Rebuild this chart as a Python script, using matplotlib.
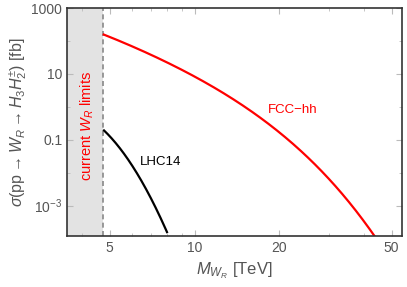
import numpy as np
import matplotlib
matplotlib.use("Agg")
import matplotlib.pyplot as plt
from matplotlib.ticker import FixedLocator, NullFormatter

plt.rcParams['font.family'] = ['Liberation Sans', 'DejaVu Sans']
plt.rcParams['mathtext.fontset'] = 'custom'
plt.rcParams['mathtext.rm'] = 'Liberation Sans'
plt.rcParams['mathtext.it'] = 'Liberation Sans:italic'

# (M in TeV, sigma in fb)
fcc_m = [4.76, 6.97, 10.47, 14.5, 15.7, 19.05, 25.0, 32.8, 37.6, 43.6]
fcc_sigma = [158, 37.1, 7.24, 1.20, 0.748, 0.244, 0.0297, 0.00288, 0.00063, 0.000115]
lhc_m = [4.77, 5.82, 6.69, 7.98]
lhc_sigma = [0.193, 0.0236, 0.00356, 0.000155]
wr_limit = 4.74

x_major = [5, 10, 20, 50]
x_minor = [4, 6, 7, 8, 9, 30, 40]
y_major = [1e-3, 1e-1, 1e1, 1e3]
y_labels = ['$10^{-3}$', '0.1', '10', '1000']
y_minor = [1e-4, 1e-2, 1, 1e2]

fig = plt.figure(figsize=(4.07, 2.87), dpi=100)
ax = fig.add_axes([0.165, 0.176, 0.823, 0.796])

xmin, xmax = 3.53, 54.5
ymin, ymax = 1.15e-4, 1e3

ax.axvspan(xmin, wr_limit, color='#e3e3e3', lw=0)
ax.axvline(wr_limit, color='#888888', ls=(0, (3, 2)), lw=1.2)

# smooth the read points in log-log space
def smooth(m, s, deg):
    lm, ls = np.log10(m), np.log10(s)
    t = np.linspace(lm[0], lm[-1], 200)
    c = np.polyfit(lm, ls, deg)
    return 10 ** t, 10 ** np.polyval(c, t)

mx, sy = smooth(fcc_m, fcc_sigma, 4)
ax.plot(mx, sy, color='red', lw=1.6)
mx, sy = smooth(lhc_m, lhc_sigma, 2)
ax.plot(mx, sy, color='black', lw=1.6)

ax.set_xscale('log')
ax.set_yscale('log')
ax.set_xlim(xmin, xmax)
ax.set_ylim(ymin, ymax)

ax.xaxis.set_major_locator(FixedLocator(x_major))
ax.set_xticklabels([str(v) for v in x_major])
ax.xaxis.set_minor_locator(FixedLocator(x_minor))
ax.xaxis.set_minor_formatter(NullFormatter())
ax.yaxis.set_major_locator(FixedLocator(y_major))
ax.set_yticklabels(y_labels)
ax.yaxis.set_minor_locator(FixedLocator(y_minor))
ax.yaxis.set_minor_formatter(NullFormatter())

ax.tick_params(which='both', direction='in', top=True, right=True,
               color='#bbbbbb', labelcolor='#555555', labelsize=10)
ax.tick_params(which='major', length=4)
ax.tick_params(which='minor', length=2.5)
for sp in ax.spines.values():
    sp.set_color('#333333')
    sp.set_linewidth(1.2)

ax.set_xlabel(r'$M_{W_R}$ [TeV]', color='#555555', fontsize=12)
ax.set_ylabel(r'$\sigma$(pp$\rightarrow W_R \rightarrow H_3 H_2^{\pm}$) [fb]',
              color='#555555', fontsize=11.5, labelpad=2)

ax.text(4.15, 0.27, r'current $W_R$ limits', color='red', rotation=90,
        ha='center', va='center', fontsize=10.5)
ax.text(18.2, 0.79, 'FCC\u2212hh', color='red', fontsize=9.5, va='center')
ax.text(6.42, 0.0204, 'LHC14', color='black', fontsize=9.5, va='center')

fig.savefig('out.png', dpi=100)
